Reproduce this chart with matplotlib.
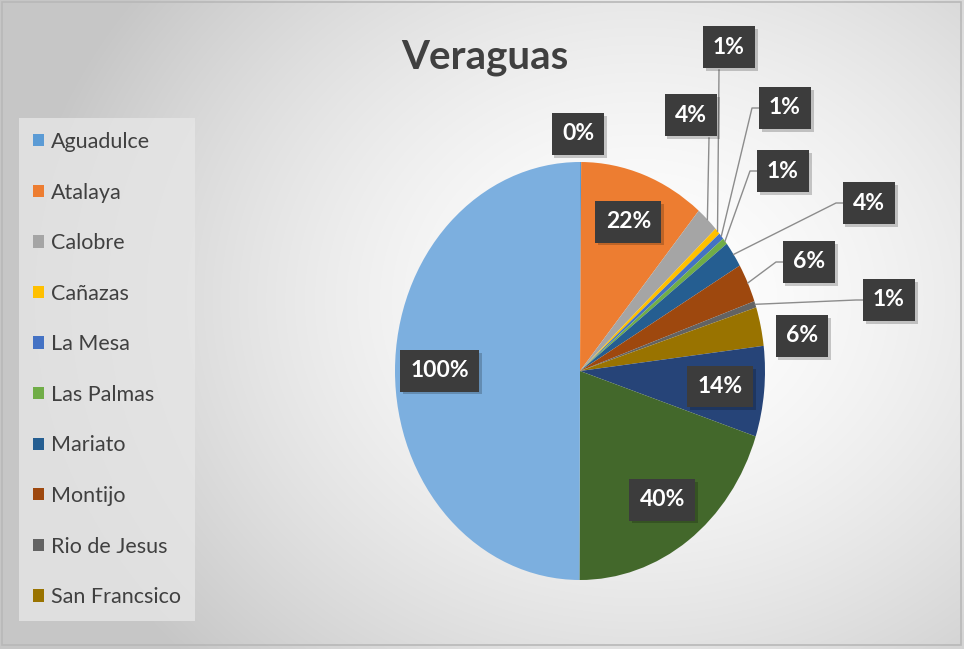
import numpy as np
import matplotlib
matplotlib.use("Agg")
import matplotlib.pyplot as plt
from matplotlib.patches import Patch, Rectangle
import matplotlib.patheffects as pe

# ---------------- data ----------------
categories = ["Aguadulce", "Atalaya", "Calobre", "Cañazas", "La Mesa", "Las Palmas",
              "Mariato", "Montijo", "Rio de Jesus", "San Francsico", "Santa Fe",
              "Santiago", "Total"]
values = [0.2, 22, 4, 1, 1, 1, 4, 6, 1, 6, 14, 40, 100]
legend_count = 10  # legend in the reference shows only the first 10 entries

colors = ["#5B9BD5", "#ED7D31", "#A5A5A5", "#FFC000", "#4472C4", "#70AD47",
          "#255E91", "#9E480E", "#636363", "#997300", "#264478", "#43682B",
          "#7CAFDF"]

# ---------------- layout ----------------
W, H = 964, 649
CX, CY, RX, RY = 580, 371, 185, 209  # pie centre / radii in pixels

fig = plt.figure(figsize=(W / 100, H / 100), dpi=100)

# background gradient
bg = fig.add_axes([0, 0, 1, 1])
yy, xx = np.mgrid[0:H, 0:W]
d = np.sqrt(((xx - 640) / 620.0) ** 2 + ((yy - 300) / 520.0) ** 2)
shade = np.clip(1.0 - 0.22 * d ** 1.6, 0.78, 1.0)
bg.imshow(np.dstack([shade] * 3), extent=[0, W, H, 0], aspect="auto")
bg.set_xlim(0, W)
bg.set_ylim(H, 0)
bg.axis("off")
bg.add_patch(Rectangle((2, 2), W - 5, H - 6, fill=False, edgecolor="#b8b8b8", lw=1.2))

# pie axes: data coords map to pixels via x = CX + RX*u, y = CY - RY*v
ax = fig.add_axes([0, 0, 1, 1])
ax.patch.set_alpha(0)
wedges, _ = ax.pie(values, colors=colors, startangle=90, counterclock=False,
                   radius=1.0, center=(0, 0),
                   wedgeprops=dict(linewidth=0))
ax.set_aspect("auto")
ax.set_xlim((0 - CX) / RX, (W - CX) / RX)
ax.set_ylim((CY - H) / RY, CY / RY)
ax.axis("off")


def px2data(px, py):
    return (px - CX) / RX, (CY - py) / RY


label_font = dict(family=["Lato", "DejaVu Sans"], fontsize=16.5, fontweight="bold")
box = dict(boxstyle="square,pad=0.45", facecolor="#3c3c3c", edgecolor="none")


def boxed(x, y, s):
    t = ax.text(x, y, s, ha="center", va="center", bbox=box, color="white",
                zorder=5, **label_font)
    t.get_bbox_patch().set_path_effects(
        [pe.withSimplePatchShadow(offset=(2, -2), shadow_rgbFace="black", alpha=0.2)])


total = sum(values)
angles = []
cum = 0.0
for v in values:
    mid = cum + v / 2
    angles.append(np.deg2rad(90 - 360.0 * mid / total))
    cum += v

# outside label placement (pixel centres) and leader style
outside = {
    0: ((578, 134), None),
    2: ((691, 115), "down"),
    3: ((729, 47), "down"),
    4: ((785, 108), "left"),
    5: ((783, 171), "left"),
    6: ((869, 203), "left"),
    7: ((809, 262), "left"),
    8: ((889, 300), "left"),
    9: ((802, 336), None),
}
lead_x = {2: 709, 3: 719}

for i, v in enumerate(values):
    txt = f"{v:.0f}%"
    a = angles[i]
    ex, ey = np.cos(a), np.sin(a)  # wedge edge point (data coords)
    if i in outside:
        (lx, ly), style = outside[i]
        tx, ty = px2data(lx, ly)
        boxed(tx, ty, txt)
        if style == "down":
            bx = (lead_x[i] - CX) / RX
            ytop = (CY - (ly + 23)) / RY
            ax.plot([bx, ex], [ytop, ey], color="#8c8c8c", lw=1.0, zorder=4)
        elif style == "left":
            x0 = (lx - 25 - CX) / RX
            x1 = (lx - 33 - CX) / RX
            ax.plot([x0, x1, ex], [ty, ty, ey], color="#8c8c8c", lw=1.0, zorder=4)
    else:
        r = 0.76
        boxed(r * ex, r * ey, txt)

# title
fig.text(485 / W, 1 - 58 / H, "Veraguas", ha="center", va="center",
         family=["Lato", "DejaVu Sans"], fontsize=29, fontweight="bold", color="#404040")

# legend
handles = [Patch(facecolor=colors[i], edgecolor="none", label=categories[i])
           for i in range(legend_count)]
leg = fig.legend(handles=handles, loc="upper left",
                 bbox_to_anchor=(19 / W, 1 - 118 / H),
                 prop=dict(family=["Lato", "DejaVu Sans"], size=15.5),
                 frameon=True, fancybox=False, facecolor="#e6e6e6", edgecolor="none",
                 framealpha=0.8, labelspacing=1.42, handlelength=0.5, handleheight=0.5,
                 handletextpad=0.35, borderpad=0.65, borderaxespad=0)
for t in leg.get_texts():
    t.set_color("#404040")

fig.savefig("out.png", dpi=100)
